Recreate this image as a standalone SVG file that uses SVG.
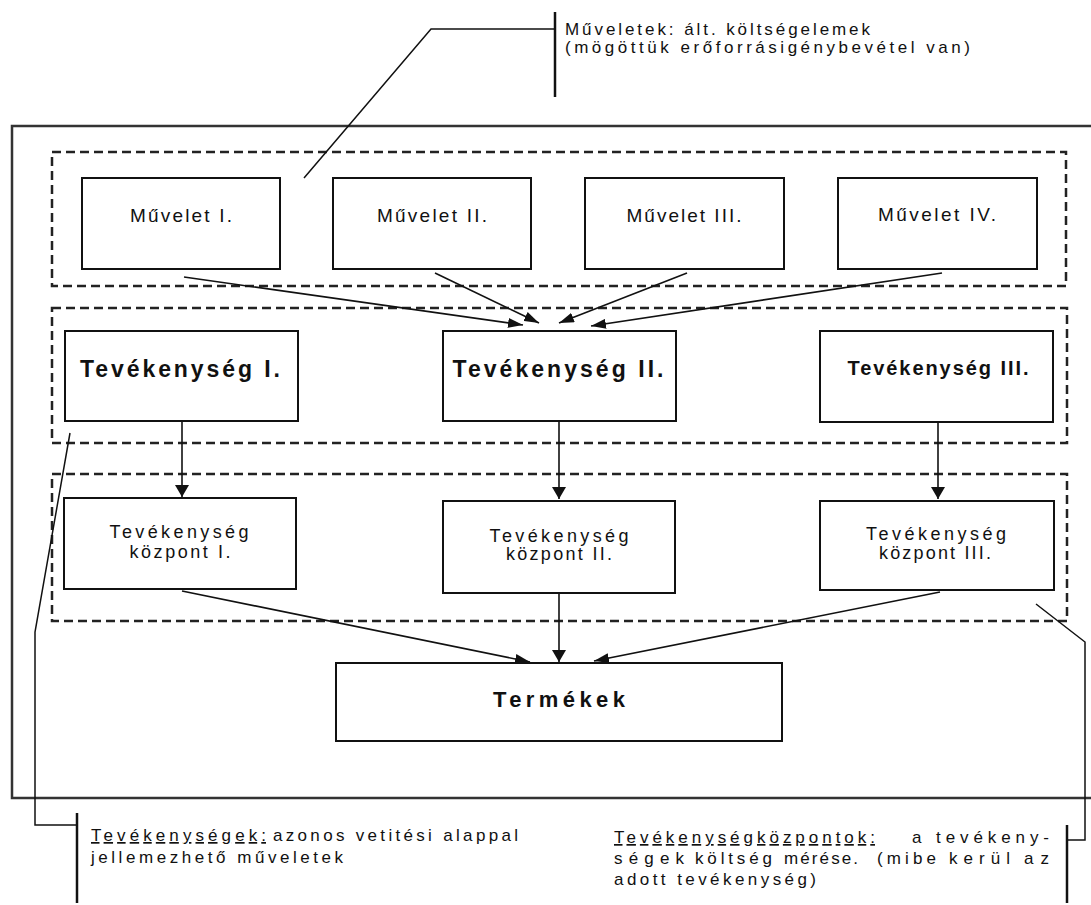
<svg xmlns="http://www.w3.org/2000/svg" width="1091" height="905" viewBox="0 0 1091 905">
  <defs>
    <style>
      text { font-family: "Liberation Sans", Arial, sans-serif; fill: #111; }
      .box { fill: #fff; stroke: #111; stroke-width: 2; }
      .grp { fill: none; stroke: #222; stroke-width: 2.5; stroke-dasharray: 9 5; }
      .frame { fill: none; stroke: #333; stroke-width: 2.5; }
      .wire { fill: none; stroke: #111; stroke-width: 1.6; }
      .lead { fill: none; stroke: #111; stroke-width: 1.5; }
      .bar { stroke: #111; stroke-width: 2.5; }
      .op { font-size: 19px; text-anchor: middle; }
      .act { font-weight: bold; text-anchor: middle; }
      .ctr { font-size: 18px; text-anchor: middle; }
      .note { font-size: 17px; }
      .u { text-decoration: underline; }
    </style>
    <marker id="tipA" markerUnits="userSpaceOnUse" markerWidth="15" markerHeight="10" viewBox="0 0 15 10" refX="15" refY="5" orient="auto">
      <path d="M0,0 L15,5 L0,10 z" fill="#111"/>
    </marker>
    <marker id="tipB" markerUnits="userSpaceOnUse" markerWidth="12" markerHeight="14" viewBox="0 0 12 14" refX="12" refY="7" orient="auto">
      <path d="M0,0 L12,7 L0,14 z" fill="#111"/>
    </marker>
  </defs>

  <!-- outer frame (open on the right) -->
  <path class="frame" d="M1095,126 H12 V798 H1095"/>

  <!-- dashed layer groupings -->
  <g id="layers">
    <rect class="grp" x="52" y="152" width="1014" height="134"/>
    <rect class="grp" x="52" y="308" width="1015" height="135"/>
    <rect class="grp" x="52" y="474" width="1015" height="147"/>
  </g>

  <!-- connectors -->
  <g id="connectors">
    <line class="wire" x1="184" y1="277" x2="523" y2="325" marker-end="url(#tipA)"/>
    <line class="wire" x1="435" y1="273" x2="539" y2="323" marker-end="url(#tipA)"/>
    <line class="wire" x1="687" y1="273" x2="559" y2="323" marker-end="url(#tipA)"/>
    <line class="wire" x1="942" y1="273" x2="591" y2="326" marker-end="url(#tipA)"/>

    <line class="wire" x1="182" y1="421" x2="182" y2="497" marker-end="url(#tipB)"/>
    <line class="wire" x1="559" y1="422" x2="559" y2="499" marker-end="url(#tipB)"/>
    <line class="wire" x1="938" y1="422" x2="938" y2="499" marker-end="url(#tipB)"/>

    <line class="wire" x1="182" y1="591" x2="530" y2="662" marker-end="url(#tipA)"/>
    <line class="wire" x1="559" y1="593" x2="559" y2="662" marker-end="url(#tipB)"/>
    <line class="wire" x1="940" y1="592" x2="594" y2="661" marker-end="url(#tipA)"/>
  </g>

  <!-- annotation leaders -->
  <g id="leaders">
    <polyline class="lead" points="304,178 431,29 555,29"/>
    <line class="bar" x1="555" y1="12" x2="555" y2="97"/>
    <polyline class="lead" points="70,433 35,632 35,825 77,825"/>
    <line class="bar" x1="77" y1="813" x2="77" y2="903"/>
    <polyline class="lead" points="1036,604 1085,642 1085,840 1067,840"/>
    <line class="bar" x1="1067" y1="825" x2="1067" y2="903"/>
  </g>

  <!-- operations -->
  <g id="muvelet-1">
    <rect class="box" x="82" y="178" width="198" height="91"/>
    <text class="op" x="181" y="222" textLength="102" lengthAdjust="spacing">Művelet I.</text>
  </g>
  <g id="muvelet-2">
    <rect class="box" x="333" y="178" width="198" height="91"/>
    <text class="op" x="432" y="222" textLength="110" lengthAdjust="spacing">Művelet II.</text>
  </g>
  <g id="muvelet-3">
    <rect class="box" x="585" y="178" width="199" height="91"/>
    <text class="op" x="684" y="222" textLength="115" lengthAdjust="spacing">Művelet III.</text>
  </g>
  <g id="muvelet-4">
    <rect class="box" x="838" y="178" width="199" height="91"/>
    <text class="op" x="937" y="221" textLength="118" lengthAdjust="spacing">Művelet IV.</text>
  </g>

  <!-- activities -->
  <g id="tevekenyseg-1">
    <rect class="box" x="65" y="331" width="233" height="90"/>
    <text class="act" x="180" y="377" font-size="23" textLength="200" lengthAdjust="spacing">Tevékenység I.</text>
  </g>
  <g id="tevekenyseg-2">
    <rect class="box" x="443" y="331" width="233" height="90"/>
    <text class="act" x="558" y="377" font-size="23" textLength="211" lengthAdjust="spacing">Tevékenység II.</text>
  </g>
  <g id="tevekenyseg-3">
    <rect class="box" x="820" y="331" width="233" height="91"/>
    <text class="act" x="938" y="375" font-size="20" textLength="181" lengthAdjust="spacing">Tevékenység III.</text>
  </g>

  <!-- activity centres -->
  <g id="kozpont-1">
    <rect class="box" x="64" y="498" width="232" height="91"/>
    <text class="ctr" x="179" y="538" textLength="139" lengthAdjust="spacing">Tevékenység</text>
    <text class="ctr" x="180" y="558" textLength="101" lengthAdjust="spacing">központ I.</text>
  </g>
  <g id="kozpont-2">
    <rect class="box" x="443" y="501" width="232" height="92"/>
    <text class="ctr" x="559" y="542" textLength="139" lengthAdjust="spacing">Tevékenység</text>
    <text class="ctr" x="559" y="560" textLength="106" lengthAdjust="spacing">központ II.</text>
  </g>
  <g id="kozpont-3">
    <rect class="box" x="820" y="501" width="234" height="89"/>
    <text class="ctr" x="936" y="540" textLength="140" lengthAdjust="spacing">Tevékenység</text>
    <text class="ctr" x="935" y="559" textLength="112" lengthAdjust="spacing">központ III.</text>
  </g>

  <!-- products -->
  <g id="termekek">
    <rect class="box" x="336" y="663" width="446" height="78"/>
    <text class="act" x="559" y="707" font-size="22" textLength="132" lengthAdjust="spacing">Termékek</text>
  </g>

  <!-- notes -->
  <g id="note-muveletek">
    <text class="note" x="565" y="35" textLength="305" lengthAdjust="spacing">Műveletek: ált. költségelemek</text>
    <text class="note" x="565" y="53" textLength="405" lengthAdjust="spacing">(mögöttük erőforrásigénybevétel van)</text>
  </g>
  <g id="note-tevekenysegek">
    <text class="note u" x="91" y="841" textLength="175" lengthAdjust="spacing">Tevékenységek:</text>
    <text class="note" x="273" y="841" textLength="245" lengthAdjust="spacing">azonos vetitési alappal</text>
    <text class="note" x="91" y="863" textLength="252" lengthAdjust="spacing">jellemezhető műveletek</text>
  </g>
  <g id="note-kozpontok">
    <text class="note u" x="614" y="843" textLength="261" lengthAdjust="spacing">Tevékenységközpontok:</text>
    <text class="note" x="912" y="843">a</text>
    <text class="note" x="936" y="843" textLength="113" lengthAdjust="spacing">tevékeny-</text>
    <text class="note" x="614" y="864" textLength="70" lengthAdjust="spacing">ségek</text>
    <text class="note" x="695" y="864" textLength="77" lengthAdjust="spacing">költség</text>
    <text class="note" x="784" y="864" textLength="74" lengthAdjust="spacing">mérése.</text>
    <text class="note" x="877" y="864" textLength="59" lengthAdjust="spacing">(mibe</text>
    <text class="note" x="949" y="864" textLength="61" lengthAdjust="spacing">kerül</text>
    <text class="note" x="1024" y="864" textLength="25" lengthAdjust="spacing">az</text>
    <text class="note" x="614" y="885" textLength="202" lengthAdjust="spacing">adott tevékenység)</text>
  </g>
</svg>
